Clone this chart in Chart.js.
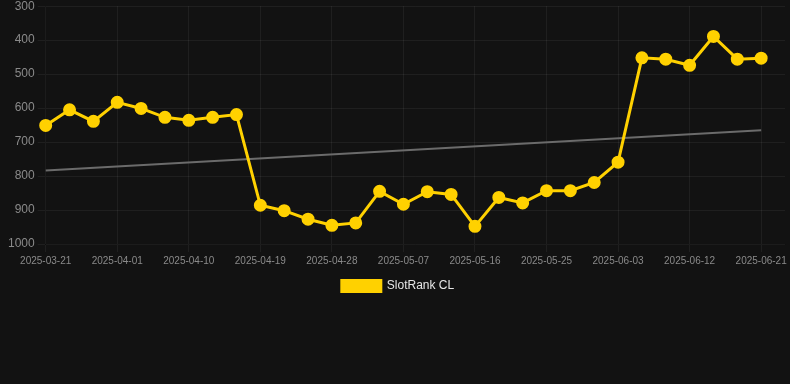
<!DOCTYPE html>
<html>
<head>
<meta charset="utf-8">
<script src="https://cdn.jsdelivr.net/npm/chart.js@4.4.0/dist/chart.umd.min.js"></script>
<style>
  html, body { margin: 0; padding: 0; background: #121212; overflow: hidden; }
  #wrap { width: 793px; height: 306px; position: relative; top: -4px; }
</style>
</head>
<body>
<div id="wrap"><canvas id="chart"></canvas></div>
<script>
// fechas (una etiqueta extra al final sin dato)
const labels = [
  '2025-03-21', '2025-03-25', '2025-03-28', '2025-04-01', '2025-04-04', '2025-04-07',
  '2025-04-10', '2025-04-13', '2025-04-16', '2025-04-19', '2025-04-22', '2025-04-25',
  '2025-04-28', '2025-05-01', '2025-05-04', '2025-05-07', '2025-05-10', '2025-05-13',
  '2025-05-16', '2025-05-19', '2025-05-22', '2025-05-25', '2025-05-28', '2025-05-31',
  '2025-06-03', '2025-06-06', '2025-06-09', '2025-06-12', '2025-06-15', '2025-06-18',
  '2025-06-21', '2025-06-24'
];

// ranking (posicion)
const rankValues = [
  651, 605, 639, 583, 601, 627, 636, 627, 619, 886, 902, 927, 945, 938, 845, 883,
  846, 854, 948, 863, 879, 843, 843, 819, 759, 452, 456, 474, 389, 456, 453, null
];

// linea de tendencia: solo inicio y fin
const trendValues = [784, null, null, null, null, null, null, null, null, null, null, null,
  null, null, null, null, null, null, null, null, null, null, null, null, null, null,
  null, null, null, null, 665, null];

const yTicks = [300, 400, 500, 600, 700, 800, 900, 1000];

const gold = '#FFD100';
const gridColor = 'rgba(255,255,255,0.06)';

Chart.defaults.font.family = 'Arial, "Liberation Sans", Helvetica, sans-serif';

new Chart(document.getElementById('chart').getContext('2d'), {
    type: 'line',
    data: {
        labels: labels,
        datasets: [{
            label: 'SlotRank CL',
            data: rankValues,
            borderColor: gold,
            backgroundColor: gold,
            borderWidth: 3,
            pointRadius: 5,
            pointHoverRadius: 5,
            pointBackgroundColor: gold,
            pointBorderColor: gold,
            tension: 0
        }, {
            label: 'trend',
            data: trendValues,
            borderColor: '#6b6b6b',
            borderWidth: 2,
            pointRadius: 0,
            spanGaps: true,
            fill: false
        }]
    },
    options: {
        responsive: true,
        maintainAspectRatio: false,
        animation: false,
        layout: { padding: { left: 5, right: 2, top: 0, bottom: 0 } },
        scales: {
            x: {
                grid: { color: gridColor },
                ticks: {
                    color: '#8a8a8a',
                    font: { size: 10 },
                    maxRotation: 0,
                    autoSkip: false,
                    callback: function (val, i) {
                        return i % 3 === 0 && i <= 30 ? labels[i] : null;
                    }
                }
            },
            y: {
                reverse: true,
                min: yTicks[0],
                max: yTicks[yTicks.length - 1],
                grid: { color: gridColor },
                ticks: {
                    color: '#8a8a8a',
                    font: { size: 12 },
                    stepSize: 100,
                    callback: v => String(v)
                }
            }
        },
        plugins: {
            legend: {
                position: 'bottom',
                labels: {
                    color: '#e6e6e6',
                    font: { size: 12 },
                    boxWidth: 39,
                    boxHeight: 11,
                    filter: item => item.text !== 'trend'
                }
            },
            tooltip: { enabled: false }
        }
    }
});
</script>
</body>
</html>
